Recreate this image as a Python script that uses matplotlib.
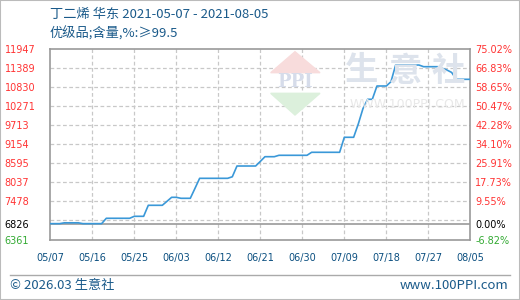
import pandas as pd
import matplotlib
matplotlib.use('Agg')
from matplotlib import pyplot as plt
import matplotlib.dates as mdates
from matplotlib.patches import Rectangle, Polygon
from matplotlib.lines import Line2D

# data
dates = ['2021-05-07', '2021-05-09', '2021-05-10', '2021-05-13', '2021-05-14', '2021-05-18',
         '2021-05-19', '2021-05-24', '2021-05-25', '2021-05-27', '2021-05-28', '2021-05-31',
         '2021-06-01', '2021-06-02', '2021-06-03', '2021-06-04', '2021-06-06', '2021-06-07',
         '2021-06-08', '2021-06-14', '2021-06-15', '2021-06-16', '2021-06-20', '2021-06-21',
         '2021-06-22', '2021-06-24', '2021-06-25', '2021-07-01', '2021-07-02', '2021-07-08',
         '2021-07-09', '2021-07-11', '2021-07-12', '2021-07-13', '2021-07-14', '2021-07-15',
         '2021-07-16', '2021-07-18', '2021-07-19', '2021-07-20', '2021-07-25', '2021-07-26',
         '2021-07-29', '2021-07-30', '2021-07-31', '2021-08-01', '2021-08-02', '2021-08-05']
prices = [6826, 6826, 6850, 6850, 6826, 6826,
          6983, 6983, 7041, 7041, 7364, 7364,
          7480, 7598, 7598, 7569, 7569, 7860,
          8155, 8155, 8200, 8516, 8516, 8650,
          8789, 8789, 8830, 8830, 8918, 8918,
          9358, 9358, 9750, 10200, 10472, 10472,
          10862, 10862, 10988, 11477, 11477, 11428,
          11428, 11380, 11330, 11260, 11058, 11058]

base_price = 6826
y_labels = [6361, 6826, 7478, 8037, 8595, 9154, 9713, 10271, 10830, 11389, 11947]
pct_labels = ['-6.82%', '0.00%', '9.55%', '17.73%', '25.91%', '34.10%', '42.28%',
              '50.47%', '58.65%', '66.83%', '75.02%']
grid_levels = [6919.6, 7478.2, 8036.8, 8595.4, 9154.0, 9712.6, 10271.2, 10829.8, 11388.4]
x_ticks = ['2021-05-07', '2021-05-16', '2021-05-25', '2021-06-03', '2021-06-12', '2021-06-21',
           '2021-06-30', '2021-07-09', '2021-07-18', '2021-07-27', '2021-08-05']

title1 = '丁二烯 华东 2021-05-07 - 2021-08-05'
title2 = '优级品;含量,%:≥99.5'

cjk = ['Noto Sans CJK SC', 'DejaVu Sans']
num_font = 'DejaVu Sans'
blue_txt = '#1a5a8a'
red = '#ff3333'
green = '#33aa33'

df = pd.DataFrame({'date': pd.to_datetime(dates), 'price': prices})
xt = pd.to_datetime(x_ticks)

W, H = 520, 300
fig = plt.figure(figsize=(W / 100, H / 100), dpi=100)
ax = fig.add_axes([50.3 / W, (H - 239.5) / H, 420 / W, 190.5 / H])

# watermark
for ch, cx in zip('生意社', [362, 405, 448]):
    fig.text(cx / W, 1 - 71 / H, ch, fontsize=24, color='#dde3ec', ha='center', va='center',
             family=cjk, fontweight='bold', zorder=0)
fig.text(407 / W, 1 - 104 / H, 'WWW.100PPI.COM', fontsize=9, color='#e8e8e8', ha='center',
         va='center', zorder=0)
tri_top = Polygon([[295 / W, 1 - 51.7 / H], [270.7 / W, 1 - 72.7 / H], [320 / W, 1 - 72.7 / H]],
                  closed=True, transform=fig.transFigure, color='#f8dcdc', zorder=0)
tri_bot = Polygon([[270.7 / W, 1 - 93.3 / H], [320 / W, 1 - 93.3 / H], [295 / W, 1 - 115 / H]],
                  closed=True, transform=fig.transFigure, color='#dcf0dc', zorder=0)
fig.patches.extend([tri_top, tri_bot])
fig.text(295 / W, 1 - 82 / H, 'PPI', fontsize=13, color='#d6dcea', ha='center', va='center',
         family='DejaVu Serif', fontweight='bold', zorder=0)

ax.patch.set_alpha(0)
ax.set_xlim(pd.Timestamp(dates[0]), pd.Timestamp(dates[-1]))
ax.set_ylim(y_labels[0], y_labels[-1])

for lv in grid_levels:
    ax.axhline(lv, color='#c8c8c8', lw=0.9, ls=(0, (3, 2)), zorder=1)
for t in xt[1:-1]:
    ax.axvline(t, color='#c8c8c8', lw=0.9, ls=(0, (3, 2)), zorder=1)
ax.axhline(base_price, color='#999999', lw=1.2, zorder=2)

ax.plot(df['date'], df['price'], color='#3a98d8', lw=1.2, zorder=3)

for s in ax.spines.values():
    s.set_color('#999999')
    s.set_linewidth(1.2)

ax.set_xticks(xt)
ax.xaxis.set_major_formatter(mdates.DateFormatter('%m/%d'))
ax.tick_params(axis='x', length=0, pad=10, labelsize=7, labelcolor='#0b4f80')
for lab in ax.get_xticklabels():
    lab.set_family(num_font)

ax.set_yticks(y_labels)
ax.set_yticklabels([str(v) for v in y_labels])
ax.tick_params(axis='y', length=0, pad=33, labelsize=7)
for lab, v in zip(ax.get_yticklabels(), y_labels):
    lab.set_horizontalalignment('left')
    lab.set_family(num_font)
    lab.set_color(green if v < base_price else ('black' if v == base_price else red))

ax2 = ax.twinx()
ax2.set_ylim(ax.get_ylim())
ax2.set_yticks(y_labels)
ax2.set_yticklabels(pct_labels)
ax2.tick_params(axis='y', length=0, pad=3.5, labelsize=7)
for s in ax2.spines.values():
    s.set_visible(False)
for lab, v in zip(ax2.get_yticklabels(), y_labels):
    lab.set_family(num_font)
    lab.set_color(green if v < base_price else ('black' if v == base_price else red))

# titles
fig.text(50 / W, 1 - 14.5 / H, title1, fontsize=9.5, color=blue_txt, family=cjk, va='center')
fig.text(50 / W, 1 - 34 / H, title2, fontsize=9.5, color=blue_txt, family=cjk, va='center')

# footer
fig.lines.append(Line2D([10 / W, 510 / W], [1 - 275 / H, 1 - 275 / H], transform=fig.transFigure,
                        color='#aaaaaa', lw=1))
fig.text(10 / W, 1 - 285.5 / H, '© 2026.03 生意社', fontsize=9.5, color=blue_txt, family=cjk,
         va='center')
fig.text(508 / W, 1 - 285.5 / H, 'www.100PPI.com', fontsize=9.5, color=blue_txt, family=cjk,
         va='center', ha='right')
fig.patches.append(Rectangle((0, 0), 1, 1, transform=fig.transFigure, fill=False,
                             edgecolor='#bbbbbb', lw=1.5))

plt.savefig('out.png', dpi=100)
